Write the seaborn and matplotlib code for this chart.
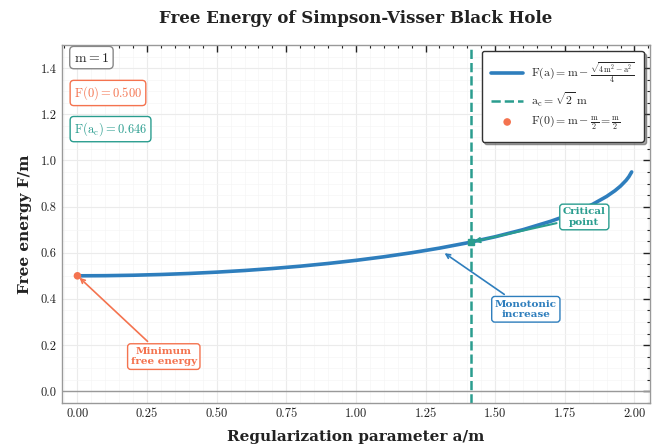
import numpy as np
import pandas as pd
import matplotlib
matplotlib.use('Agg')
import matplotlib.pyplot as plt
import seaborn as sns

# values (m = 1)
a_vals = [0.0, 0.1, 0.2, 0.3, 0.4, 0.5, 0.6, 0.7, 0.8, 0.9, 1.0, 1.1, 1.2, 1.3,
          1.4, 1.5, 1.6, 1.7, 1.75, 1.8, 1.85, 1.9, 1.93, 1.95, 1.97, 1.98, 1.99]
F_vals = [0.5000, 0.5006, 0.5025, 0.5057, 0.5101, 0.5159, 0.5230, 0.5316, 0.5417,
          0.5535, 0.5670, 0.5824, 0.6000, 0.6200, 0.6429, 0.6693, 0.7000, 0.7366,
          0.7579, 0.7821, 0.8100, 0.8439, 0.8689, 0.8889, 0.9137, 0.9295, 0.9501]
a_crit = 1.4142
F_crit = 0.646
F_zero = 0.500

blue = '#2E7EBD'
teal = '#2A9D8F'
orange = '#F4734F'

sns.set_theme(style='whitegrid')
plt.rcParams['font.family'] = 'serif'
plt.rcParams['font.serif'] = ['DejaVu Serif']
plt.rcParams['mathtext.fontset'] = 'cm'
plt.rcParams['mathtext.default'] = 'rm'

df = pd.DataFrame({'a': a_vals, 'F': F_vals})

fig, ax = plt.subplots(figsize=(6.61, 4.46), dpi=100)

ax.axhline(0, color='#999999', lw=1, zorder=1)
ax.axvline(a_crit, color=teal, ls='--', lw=1.8, zorder=2,
           label=r'$\mathrm{a_c} = \sqrt{2}\ \mathrm{m}$')
sns.lineplot(data=df, x='a', y='F', ax=ax, color=blue, lw=2.6, zorder=3,
             label=r'$\mathrm{F(a)} = \mathrm{m} - \frac{\sqrt{4\mathrm{m}^2 - \mathrm{a}^2}}{4}$')
sns.scatterplot(x=[0.0], y=[F_zero], ax=ax, color=orange, s=30, zorder=5,
                edgecolor='none',
                label=r'$\mathrm{F(0)} = \mathrm{m} - \frac{\mathrm{m}}{2} = \frac{\mathrm{m}}{2}$')
ax.plot([a_crit], [F_crit], marker='s', color=teal, ms=5, zorder=5)

# reorder legend: curve, line, point
h, l = ax.get_legend_handles_labels()
order = [1, 0, 2]
leg = ax.legend([h[i] for i in order], [l[i] for i in order], loc='upper right',
                fontsize=8.5, fancybox=True, shadow=True, framealpha=1,
                edgecolor='#333333', borderpad=0.8, labelspacing=0.45,
                handlelength=2.7, handletextpad=0.7)
leg.get_frame().set_linewidth(1.0)

ax.set_xlim(-0.055, 2.055)
ax.set_ylim(-0.05, 1.5)
ax.set_xticks(np.arange(0, 2.01, 0.25))
ax.set_yticks(np.arange(0, 1.41, 0.2))
ax.minorticks_on()
ax.grid(which='major', color='#ebebeb', lw=0.8)
ax.grid(which='minor', color='#f5f5f5', lw=0.5)
ax.tick_params(which='both', direction='in', top=True, right=True, colors='#222222')
ax.tick_params(which='major', length=5, width=1, labelsize=9, pad=4)
ax.tick_params(which='minor', length=2.5, width=0.8)
for lab in ax.get_xticklabels() + ax.get_yticklabels():
    lab.set_fontfamily('cmr10')
for s in ax.spines.values():
    s.set_color('#999999')
    s.set_linewidth(1)

ax.set_title('Free Energy of Simpson-Visser Black Hole', fontsize=12,
             fontweight='bold', pad=16, color='#222222')
ax.set_xlabel('Regularization parameter a/m', fontsize=11, fontweight='bold',
              labelpad=7, color='#222222')
ax.set_ylabel('Free energy F/m', fontsize=11, fontweight='bold', labelpad=6,
              color='#222222')

def box(c):
    return dict(boxstyle='round,pad=0.3', fc='white', ec=c, lw=1)

ax.text(0.02, 0.965, r'$\mathrm{m} = 1$', transform=ax.transAxes, fontsize=10,
        va='center', ha='left', bbox=box('#888888'))
ax.text(0.02, 0.866, r'$\mathrm{F(0)} = 0.500$', transform=ax.transAxes, fontsize=9,
        va='center', ha='left', color=orange, bbox=box(orange))
ax.text(0.02, 0.765, r'$\mathrm{F(a_c)} = 0.646$', transform=ax.transAxes, fontsize=9,
        va='center', ha='left', color=teal, bbox=box(teal))

ax.annotate('Critical\npoint', xy=(a_crit, F_crit), xytext=(1.82, 0.755),
            fontsize=7.5, fontweight='bold', color=teal, ha='center', va='center',
            bbox=box(teal), arrowprops=dict(arrowstyle='->', color=teal, lw=1.5))
ax.annotate('Monotonic\nincrease', xy=(1.31, 0.605), xytext=(1.61, 0.355),
            fontsize=7.5, fontweight='bold', color=blue, ha='center', va='center',
            bbox=box(blue), arrowprops=dict(arrowstyle='->', color=blue, lw=1.2))
ax.annotate('Minimum\nfree energy', xy=(0.0, F_zero), xytext=(0.31, 0.15),
            fontsize=7.5, fontweight='bold', color=orange, ha='center', va='center',
            bbox=box(orange), arrowprops=dict(arrowstyle='->', color=orange, lw=1.2))

fig.subplots_adjust(left=0.094, right=0.983, top=0.899, bottom=0.097)
fig.savefig('out.png', dpi=100)
